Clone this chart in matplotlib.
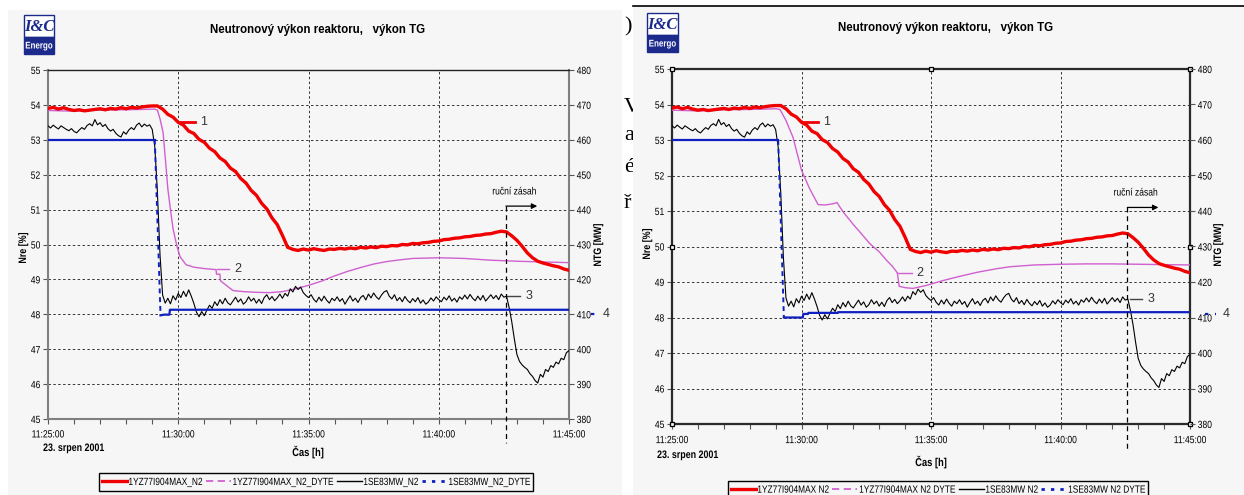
import numpy as np
import matplotlib
matplotlib.use("Agg")
import matplotlib.pyplot as plt
from matplotlib.lines import Line2D
from matplotlib.patches import Rectangle
from matplotlib.patheffects import AbstractPathEffect
from matplotlib.transforms import Affine2D

plt.rcParams['font.family'] = ['Liberation Sans', 'DejaVu Sans']

W, H, DPI = 1244, 495, 100

# ---------------- data ----------------
time_tick_min = [0, 5, 10, 15, 20]
time_labels = ['11:25:00', '11:30:00', '11:35:00', '11:40:00', '11:45:00']
date_label = '23. srpen 2001'
title_text = 'Neutronový výkon reaktoru,   výkon TG'
nre_ticks = list(range(45, 56))
ntg_ticks = list(range(380, 481, 10))

# 1YZ77I904MAX_N2 (Nre %), sampled every 0.2 min from 11:25:00
RED_STEP = 0.2
red_vals = [
    53.90, 53.93, 53.88, 53.92, 53.87, 53.84, 53.86, 53.83, 53.85, 53.87,
    53.89, 53.86, 53.90, 53.88, 53.92, 53.89, 53.93, 53.91, 53.94, 53.96,
    53.97,
    53.97, 53.88, 53.73, 53.65, 53.50, 53.42, 53.25, 53.18, 53.01, 52.93,
    52.76, 52.66, 52.48, 52.38, 52.19, 52.09, 51.89, 51.76, 51.55, 51.41,
    51.18, 51.02, 50.76, 50.57, 50.26, 49.92,
    49.86, 49.83, 49.87, 49.84, 49.88, 49.85, 49.83, 49.87, 49.86, 49.89,
    49.87, 49.90, 49.88, 49.92, 49.90, 49.93, 49.91, 49.95, 49.94, 49.97,
    49.96, 50.00, 49.99, 50.03, 50.02, 50.05, 50.06, 50.09, 50.10, 50.14,
    50.15, 50.18, 50.19, 50.22, 50.23, 50.26, 50.27, 50.30, 50.31, 50.35,
    50.38, 50.36, 50.25, 50.12, 49.95, 49.76, 49.62, 49.52, 49.47, 49.43,
    49.39, 49.36, 49.30, 49.26,
]

# 1SE83MW_N2 (NTG MW), sampled every 0.1 min
BLACK_STEP = 0.1
black_vals = [
    464.0, 463.4, 464.2, 463.6, 463.1, 464.0, 463.5, 463.0, 462.6, 463.2,
    462.4, 462.0, 462.8, 463.5, 463.0, 464.1, 464.6, 464.0, 465.8, 464.3,
    464.9, 463.8, 464.4, 463.2, 462.5, 463.0, 461.9, 461.2, 460.8, 462.3,
    461.6, 462.8, 463.5, 462.9, 464.2, 464.8, 463.7, 464.5, 463.9, 464.3,
    463.0,
    458.0, 445.0, 427.0, 415.5,
    413.2, 414.6, 413.0, 415.3, 414.1, 416.0,
    414.8, 416.6, 415.1, 417.0, 415.2, 413.1, 410.6, 409.3, 410.8, 409.6,
    411.2, 412.6, 411.7, 413.6, 412.5, 414.2, 413.0, 414.6, 413.3, 412.7,
    413.8, 414.9, 413.5, 414.4, 412.9, 413.6, 415.0, 413.8, 414.6, 413.2,
    414.3, 413.1, 414.8, 415.6, 414.2, 415.1, 413.9, 414.7, 415.8, 414.6,
    416.0, 415.2, 417.3, 416.4, 418.0, 417.1, 417.8, 416.2, 415.4, 414.8,
    415.6, 414.3, 413.5, 414.9, 413.8, 415.2, 414.0, 413.2, 414.6, 413.9,
    415.0, 413.7, 414.5, 412.9, 414.2, 415.3, 413.8, 414.6, 413.4, 414.8,
    415.4, 414.1, 415.8, 414.7, 416.1, 415.0, 414.3, 415.5, 416.4, 416.8,
    415.2, 414.4, 415.6, 413.9, 414.8, 413.6, 415.1, 414.0, 413.3, 414.5,
    413.6, 414.8, 413.2, 414.1, 412.9, 413.5, 414.7, 413.8, 415.0, 414.2,
    413.6, 414.9, 414.1, 415.3, 413.8, 414.6, 413.5, 415.0, 414.3, 415.5,
    414.4, 415.7, 414.6, 413.9, 415.2, 414.1, 415.4, 413.8, 414.7, 415.6,
    414.5, 415.4, 414.2, 415.8, 414.9, 415.2,
    412.0, 408.0, 403.0, 398.5,
    396.5, 395.5, 394.8, 394.2, 393.0, 392.2, 391.0, 390.3, 392.8, 392.0,
    394.2, 393.6, 395.3, 394.8, 396.3, 395.8, 397.4, 397.0, 399.0, 399.6,
]

# 1YZ77I904MAX_N2_DYTE (Nre %), left picture
mag_left_t = [0.0, 1.0, 2.0, 3.0, 4.1, 4.2, 4.3, 4.42, 4.5, 4.6, 4.7, 4.8, 4.95,
              5.07, 5.3, 5.6, 6.0, 6.45, 6.47, 6.6, 6.62, 7.1, 7.5, 8.0, 8.5,
              9.0, 9.5, 10.0, 10.5, 11.0, 11.5, 12.0, 12.5, 13.0, 13.5, 14.0,
              14.5, 15.0, 16.0, 17.0, 18.0, 19.0, 20.0]
mag_left_v = [53.84, 53.82, 53.85, 53.86, 53.88, 53.85, 53.60, 53.20, 52.50,
              51.60, 51.00, 50.45, 49.95, 49.65, 49.42, 49.35, 49.31, 49.28,
              49.15, 49.15, 48.96, 48.68, 48.65, 48.63, 48.62, 48.65, 48.73,
              48.83, 48.95, 49.10, 49.23, 49.34, 49.44, 49.51, 49.56, 49.60,
              49.61, 49.62, 49.60, 49.55, 49.52, 49.50, 49.48]

# 1YZ77I904MAX_N2_DYTE (Nre %), right picture
mag_right_t = [0.0, 1.0, 2.0, 3.0, 4.0, 4.17, 4.4, 4.67, 5.0, 5.3, 5.64, 5.9,
               6.2, 6.37, 6.6, 6.8, 7.0, 7.3, 7.64, 8.0, 8.3, 8.5, 8.7, 8.77,
               9.0, 9.3, 9.8, 10.46, 11.0, 11.76, 12.5, 13.05, 14.0, 15.0,
               16.0, 17.0, 18.0, 19.0, 20.0]
mag_right_v = [53.84, 53.82, 53.85, 53.86, 53.88, 53.86, 53.55, 53.08, 52.15,
               51.65, 51.18, 51.17, 51.20, 51.24, 50.98, 50.80, 50.62, 50.37,
               50.08, 49.85, 49.60, 49.45, 49.26, 48.88, 48.84, 48.82, 48.90,
               49.04, 49.14, 49.27, 49.37, 49.43, 49.48, 49.50, 49.51, 49.51,
               49.50, 49.49, 49.48]

# 1SE83MW_N2_DYTE (NTG MW)
blue_left_t = [0.0, 4.10, 4.32, 4.45, 4.66, 4.68, 20.0]
blue_left_v = [460.0, 460.0, 409.7, 409.9, 409.9, 411.3, 411.3]
blue_right_t = [0.0, 4.10, 4.32, 5.05, 5.07, 5.25, 5.27, 6.40, 6.42, 20.0]
blue_right_v = [460.0, 460.0, 410.0, 410.0, 411.0, 411.0, 411.3, 411.3, 411.5, 411.5]

legend_left = ['1YZ77I904MAX_N2', '1YZ77I904MAX_N2_DYTE', '1SE83MW_N2', '1SE83MW_N2_DYTE']
legend_right = ['1YZ77I904MAX N2', '1YZ77I904MAX N2 DYTE', '1SE83MW N2', '1SE83MW N2 DYTE']

# ---------------- style ----------------
RED = '#f00000'
MAG = '#d060d0'
BLUE = '#1020c0'
NAVY = '#1c2a8c'
BG = '#f6f6f6'
SQ = 0.82   # horizontal squeeze to imitate the narrow font of the original
PLAIN = ['Liberation Sans', 'DejaVu Sans']


class Squeeze(AbstractPathEffect):
    """Draw the artist narrower around an anchor (imitates a condensed font)."""

    def __init__(self, factor, anchor='center', vertical=False, fixed=None):
        super().__init__()
        self.factor = factor
        self.anchor = anchor
        self.vertical = vertical
        self.fixed = fixed

    def draw_path(self, renderer, gc, tpath, affine, rgbFace=None):
        if self.fixed is not None:
            c = self.fixed
        else:
            ext = tpath.get_extents(affine)
            lo, hi = (ext.y0, ext.y1) if self.vertical else (ext.x0, ext.x1)
            c = {'center': 0.5 * (lo + hi), 'left': lo, 'right': hi}[self.anchor]
        if self.vertical:
            t = Affine2D().translate(0, -c).scale(1, self.factor).translate(0, c)
        else:
            t = Affine2D().translate(-c, 0).scale(self.factor, 1).translate(c, 0)
        renderer.draw_path(gc, tpath, affine + t, rgbFace)


fig = plt.figure(figsize=(W / DPI, H / DPI), dpi=DPI)
fig.patch.set_facecolor('white')


def fx(x):
    return x / W


def fy(y):
    return 1 - y / H


def rect_px(x0, y0, x1, y1, **kw):
    r = Rectangle((x0 / W, 1 - y1 / H), (x1 - x0) / W, (y1 - y0) / H,
                  transform=fig.transFigure, **kw)
    fig.patches.append(r)
    return r


def ntext(x, y, s, anchor='center', vertical=False, **kw):
    t = fig.text(fx(x), fy(y), s, **kw)
    t.set_path_effects([Squeeze(SQ, anchor, vertical)])
    return t


# panel backgrounds and the document text peeking between them
rect_px(8, 10, 622, 496, facecolor=BG, edgecolor='none', zorder=-10)
for ch, yy in [(')', 27), ('V', 107), ('a', 136), ('é', 168), ('ř', 203)]:
    fig.text(fx(624), fy(yy), ch, fontsize=16, family=['Liberation Serif', 'DejaVu Serif'],
             ha='left', va='center', zorder=-9)
rect_px(633, 6, 1245, 496, facecolor=BG, edgecolor='none', zorder=-8)
fig.lines.append(Line2D([fx(633), 1.0], [fy(6), fy(6)], transform=fig.transFigure,
                        color='black', lw=1.2, zorder=-7))


def logo(x0, y0, x1, ym, y1):
    rect_px(x0, y0, x1, ym, facecolor='white', edgecolor=NAVY, lw=1.0, zorder=-5)
    rect_px(x0, ym, x1, y1, facecolor=NAVY, edgecolor=NAVY, lw=1.0, zorder=-5)
    fig.text(fx((x0 + x1) / 2), fy((y0 + ym) / 2 + 1), 'I&C', color=NAVY, fontsize=12,
             family=['Liberation Serif', 'DejaVu Serif'], style='italic', weight='bold',
             ha='center', va='center', zorder=-4)
    ntext((x0 + x1) / 2, (ym + y1) / 2, 'Energo', color='white', fontsize=7,
          weight='bold', ha='center', va='center', zorder=-4)


def draw_panel(rect, mag_t, mag_v, blue_t, blue_v, drop_idx, ann, selected,
               legend_labels, legend_anchor, legend_loc, txt, xpad):
    x0, y0, x1, y1 = rect
    ax = fig.add_axes([x0 / W, 1 - y1 / H, (x1 - x0) / W, (y1 - y0) / H])
    ax.set_facecolor('none')
    ax2 = ax.twinx()
    ax2.set_facecolor('none')

    red_t = np.arange(len(red_vals)) * RED_STEP
    black_t = np.arange(len(black_vals)) * BLACK_STEP

    ax.plot(mag_t, mag_v, color=MAG, lw=1.0, zorder=3)
    ax.plot(red_t, red_vals, color=RED, lw=2.4, zorder=4, solid_joinstyle='miter')
    ax2.plot(black_t, black_vals, color='black', lw=0.8, zorder=3)
    a, b = drop_idx
    ax2.plot(blue_t[:a + 1], blue_v[:a + 1], color=BLUE, lw=1.6, zorder=4)
    ax2.plot(blue_t[a:b + 1], blue_v[a:b + 1], color=BLUE, lw=1.4, dashes=(2.5, 2), zorder=4)
    ax2.plot(blue_t[b:], blue_v[b:], color=BLUE, lw=1.6, zorder=4)

    ax.set_xlim(0, 20)
    ax.set_ylim(45, 55)
    ax2.set_ylim(380, 480)

    ax.set_xticks(time_tick_min)
    ax.set_xticklabels(time_labels)
    ax.set_xticks(range(0, 21), minor=True)
    ax.tick_params(axis='x', which='both', direction='out', length=3.5, width=0.8,
                   labelsize=7.5, pad=xpad, color='#555555')
    ax.set_yticks(nre_ticks)
    ax.tick_params(axis='y', direction='out', length=3.5, width=0.8, labelsize=7.5,
                   pad=2, color='#555555')
    ax2.set_yticks(ntg_ticks)
    ax2.tick_params(axis='y', direction='out', length=3.5, width=0.8, labelsize=7.5,
                    pad=2, color='#555555')
    for tk in ax.xaxis.get_major_ticks():
        tk.label1.set_path_effects([Squeeze(SQ, 'center')])
    for tk in ax.yaxis.get_major_ticks():
        tk.label1.set_path_effects([Squeeze(SQ, 'right')])
    for tk in ax2.yaxis.get_major_ticks():
        tk.label2.set_path_effects([Squeeze(SQ, 'left')])

    ax.grid(True, which='major', color='#333333', lw=0.7, linestyle=(0, (2.5, 2.5)))
    ax.set_axisbelow(True)

    for s in ax2.spines.values():
        s.set_visible(False)
    if selected:
        for s in ax.spines.values():
            s.set_color('#2a2a2a')
            s.set_linewidth(1.6)
            s.set_linestyle((0, (0.9, 0.9)))
        hx = [0, 0.5, 1, 0, 1, 0, 0.5, 1]
        hy = [0, 0, 0, 0.5, 0.5, 1, 1, 1]
        ax.plot(hx, hy, ls='none', marker='s', ms=3.5, mfc=BG, mec='black', mew=0.9,
                transform=ax.transAxes, clip_on=False, zorder=10)
    else:
        for k in ['left', 'right', 'bottom']:
            ax.spines[k].set_color('#808080')
            ax.spines[k].set_linewidth(1.5)
        ax.spines['top'].set_color('#222222')
        ax.spines['top'].set_linewidth(1.0)

    # series labels 1-4
    (r0, r1, ry, rt), (m0, m1, my, mt), (k0, k1, ky, kt), (b0, b1, by, bt) = ann
    ax.plot([r0, r1], [ry, ry], color=RED, lw=2.0, clip_on=False, zorder=5)
    ax.text(rt, ry, '1', fontsize=9, color='#333333', family=PLAIN, va='center', ha='left')
    ax.plot([m0, m1], [my, my], color=MAG, lw=1.0, clip_on=False, zorder=5)
    ax.text(mt, my, '2', fontsize=9, color='#333333', family=PLAIN, va='center', ha='left')
    ax2.plot([k0, k1], [ky, ky], color='#444444', lw=1.0, clip_on=False, zorder=5)
    ax2.text(kt, ky, '3', fontsize=9, color='#333333', family=PLAIN, va='center', ha='left')
    ax2.plot([b0, b1], [by, by], color=BLUE, lw=1.6, dashes=(1.5, 3), clip_on=False, zorder=5)
    ax2.text(bt, by, '4', fontsize=9, color='#333333', family=PLAIN, va='center',
             ha='left', clip_on=False)

    # manual intervention marker
    ax2.plot([17.58, 17.58], [441, 373], color='black', lw=0.9, dashes=(4, 3),
             clip_on=False, zorder=6)
    ax2.annotate('', xy=(18.78, 441), xytext=(17.58, 441),
                 arrowprops=dict(arrowstyle='-|>', color='black', lw=0.9,
                                 mutation_scale=8, shrinkA=0, shrinkB=0), zorder=6)
    rz = ax2.text(17.9, 445.2, 'ruční zásah', fontsize=7.5, ha='center', va='center')
    rz.set_path_effects([Squeeze(SQ, 'center')])

    # texts around the plot
    (tx, ty), (nx, ny), (gx, gy), (dx, dy), (cx, cy) = txt
    fig.text(fx(tx), fy(ty), title_text, fontsize=8.3, weight='bold', ha='center',
             va='center')
    ntext(nx, ny, 'Nre [%]', vertical=True, fontsize=7.8, weight='bold', rotation=90,
          ha='center', va='center')
    ntext(gx, gy, 'NTG [MW]', vertical=True, fontsize=7.8, weight='bold', rotation=90,
          ha='center', va='center')
    ntext(dx, dy, date_label, anchor='left', fontsize=7.8, weight='bold', ha='left',
          va='center')
    ntext(cx, cy, 'Čas [h]', fontsize=8.2, weight='bold', ha='center', va='center')

    handles = [Line2D([], [], color=RED, lw=2.4),
               Line2D([], [], color=MAG, lw=1.3, dashes=(4, 2.5)),
               Line2D([], [], color='black', lw=1.0),
               Line2D([], [], color=BLUE, lw=2.0, dashes=(1.2, 2.2))]
    leg = fig.legend(handles, legend_labels, loc=legend_loc,
                     bbox_to_anchor=(fx(legend_anchor[0]), fy(legend_anchor[1])),
                     ncol=4, frameon=True, fancybox=False, edgecolor='black',
                     facecolor=BG, framealpha=1, handlelength=3.0,
                     handletextpad=0.2, columnspacing=0.4, borderpad=0.35,
                     borderaxespad=0, prop={'size': 7.5})
    leg.get_frame().set_linewidth(1.0)
    sq = Squeeze(0.8, fixed=legend_anchor[0])
    leg.get_frame().set_path_effects([sq])
    for h in leg.legend_handles:
        h.set_path_effects([sq])
    for t in leg.get_texts():
        t.set_path_effects([sq])
    return ax, ax2


logo(24, 15, 54, 37, 54)
logo(647, 13, 678, 35, 52)

draw_panel((48, 70, 569, 419), mag_left_t, mag_left_v, blue_left_t, blue_left_v, (1, 2),
           [(5.07, 5.64, 53.5, 5.85), (6.49, 6.95, 49.31, 7.15),
            (17.62, 18.12, 415.3, 18.35), (20.84, 21.15, 410.2, 21.3)],
           False, legend_left, (316, 482), 'center',
           [(318, 30), (23, 248), (598, 245), (43, 448), (308, 452)], 4)

draw_panel((672, 69, 1190, 424), mag_right_t, mag_right_v, blue_right_t, blue_right_v, (1, 2),
           [(5.02, 5.64, 53.5, 5.85), (8.69, 9.27, 49.24, 9.45),
            (17.68, 18.15, 415.1, 18.35), (20.58, 21.0, 411.1, 21.27)],
           True, legend_right, (938, 481), 'upper center',
           [(946, 28), (647, 244), (1218, 245), (657, 455), (931, 462)], 4.5)

fig.savefig('out.png', dpi=DPI)
